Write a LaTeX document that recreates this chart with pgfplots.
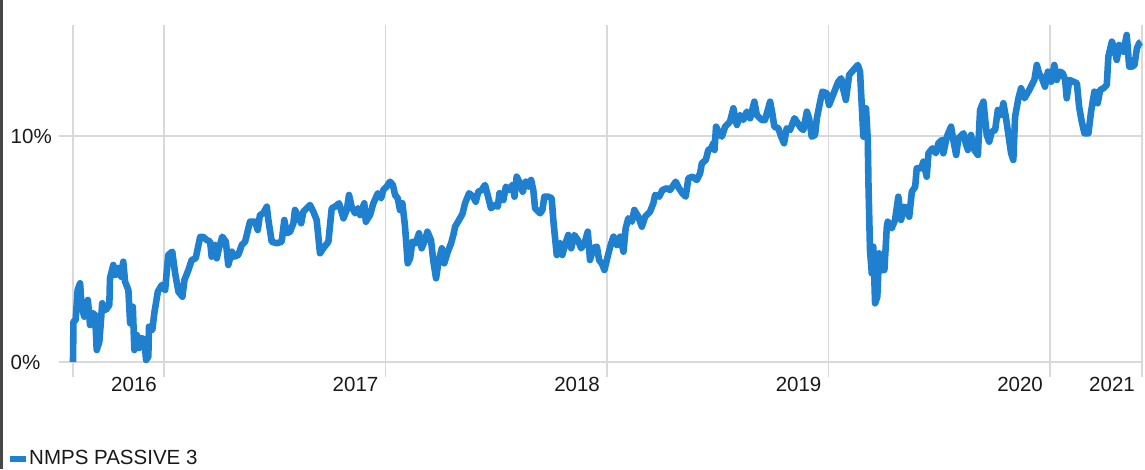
\documentclass[border=0pt]{standalone}
\usepackage{pgfplots}
\pgfplotsset{compat=1.18}
\usepackage{fontspec}
\setmainfont{Liberation Sans}
\definecolor{linecol}{RGB}{31,128,208}
\definecolor{gridcol}{RGB}{217,217,217}
\definecolor{txtcol}{RGB}{25,25,25}
\begin{document}
\fontsize{20.5}{24}\selectfont
\begin{tikzpicture}
\path[use as bounding box] (0,0) rectangle (1145pt,469pt);
\draw[black!72, line width=2.5pt] (1.25pt,0) -- (1.25pt,469pt);
\begin{axis}[
  at={(73pt,107pt)}, anchor=south west,
  scale only axis, width=1069pt, height=337pt,
  xmin=2015.589, xmax=2020.415, ymin=0, ymax=14.91,
  clip=false,
  axis x line*=bottom, axis y line*=left,
  axis line style={draw=none},
  xtick={2015.589,2016,2017,2018,2019,2020,2020.415},
  xticklabels={,2016,2017,2018,2019,2020,2021},
  ytick={0,10}, yticklabels={0\%,10\%},
  grid=major,
  major grid style={gridcol, line width=1.6pt},
  tick style={gridcol, line width=1.6pt},
  tick align=outside,
  major tick length=14.5pt,
  xticklabel style={anchor=north east, inner sep=0pt, xshift=-7pt, text=txtcol, font=\fontsize{20.5}{24}\selectfont},
  yticklabel style={anchor=west, inner sep=0pt, xshift=-48pt, text=txtcol, font=\fontsize{20.5}{24}\selectfont},
  legend style={at={(-0.0617,-0.288)}, anchor=west, draw=none, fill=none, inner sep=0pt, column sep=0pt,
    nodes={inner sep=0pt, text=txtcol, font=\fontsize{20.5}{24}\selectfont}},
  legend image code/.code={\draw[#1, line width=6pt, line cap=butt] (0pt,0pt) -- (16pt,0pt);},
]
\addplot[linecol, line width=6.6pt, line join=round, line cap=butt] coordinates {
(2015.589,0.000) (2015.591,1.783) (2015.601,1.859) (2015.610,3.186) (2015.621,3.483)
(2015.628,2.447) (2015.640,2.005) (2015.656,2.744) (2015.666,1.637) (2015.676,2.168)
(2015.689,2.080) (2015.696,0.531) (2015.708,0.898) (2015.721,2.597) (2015.737,2.301)
(2015.753,2.522) (2015.756,3.704) (2015.771,4.292) (2015.779,3.850) (2015.794,4.160)
(2015.806,3.775) (2015.816,4.438) (2015.824,3.553) (2015.839,3.186) (2015.847,1.712)
(2015.859,2.447) (2015.866,0.531) (2015.877,1.195) (2015.887,0.620) (2015.899,1.062)
(2015.911,0.974) (2015.919,0.089) (2015.929,0.235) (2015.932,1.562) (2015.947,1.416)
(2015.956,2.155) (2015.972,3.111) (2015.990,3.407) (2016.005,3.186) (2016.019,4.735)
(2016.037,4.881) (2016.050,3.925) (2016.065,3.111) (2016.083,2.890) (2016.092,3.629)
(2016.110,4.071) (2016.125,4.514) (2016.143,4.589) (2016.163,5.531) (2016.177,5.531)
(2016.193,5.399) (2016.208,5.323) (2016.215,4.660) (2016.230,5.177) (2016.238,4.589)
(2016.248,5.031) (2016.263,5.545) (2016.279,5.323) (2016.290,4.292) (2016.306,4.881)
(2016.317,4.660) (2016.335,4.735) (2016.351,5.177) (2016.366,5.323) (2016.388,6.208)
(2016.411,6.208) (2016.423,5.841) (2016.433,6.505) (2016.448,6.580) (2016.464,6.872)
(2016.471,6.284) (2016.486,5.323) (2016.509,5.252) (2016.531,5.323) (2016.543,6.284)
(2016.554,5.695) (2016.569,5.766) (2016.584,6.138) (2016.591,6.726) (2016.606,6.430)
(2016.619,6.138) (2016.629,6.651) (2016.644,6.801) (2016.659,6.947) (2016.674,6.651)
(2016.689,6.284) (2016.704,4.810) (2016.719,5.031) (2016.742,5.323) (2016.757,6.801)
(2016.772,6.872) (2016.790,7.023) (2016.810,6.359) (2016.825,6.726) (2016.835,7.390)
(2016.847,6.872) (2016.862,6.580) (2016.875,6.801) (2016.885,6.505) (2016.904,7.023)
(2016.911,6.208) (2016.930,6.505) (2016.945,7.023) (2016.965,7.465) (2016.980,7.244)
(2016.990,7.611) (2017.005,7.757) (2017.020,7.978) (2017.033,7.832) (2017.043,7.390)
(2017.055,7.244) (2017.065,6.726) (2017.076,7.023) (2017.088,5.987) (2017.100,4.367)
(2017.111,4.589) (2017.121,5.323) (2017.136,5.252) (2017.151,5.695) (2017.163,5.031)
(2017.178,5.399) (2017.189,5.766) (2017.205,5.399) (2017.216,4.438) (2017.228,3.704)
(2017.238,4.367) (2017.254,5.031) (2017.265,4.367) (2017.281,4.881) (2017.296,5.252)
(2017.306,5.620) (2017.314,5.987) (2017.329,6.239) (2017.347,6.549) (2017.359,7.023)
(2017.377,7.465) (2017.396,7.315) (2017.407,7.093) (2017.419,7.536) (2017.434,7.611)
(2017.449,7.832) (2017.461,7.390) (2017.476,6.801) (2017.494,6.947) (2017.507,6.872)
(2017.514,7.465) (2017.532,7.169) (2017.543,7.757) (2017.558,7.611) (2017.573,7.832)
(2017.582,7.315) (2017.592,8.200) (2017.607,7.907) (2017.619,7.536) (2017.633,7.978)
(2017.645,7.757) (2017.657,8.054) (2017.667,7.611) (2017.675,6.801) (2017.698,6.580)
(2017.708,6.726) (2017.717,7.315) (2017.735,7.315) (2017.750,7.244) (2017.758,6.208)
(2017.773,4.735) (2017.788,5.252) (2017.798,4.735) (2017.810,5.177) (2017.825,5.620)
(2017.838,5.031) (2017.852,5.620) (2017.868,5.399) (2017.883,5.031) (2017.898,5.252)
(2017.913,5.766) (2017.923,4.514) (2017.938,5.045) (2017.954,5.102) (2017.964,4.514)
(2017.976,4.367) (2017.988,4.071) (2017.999,4.514) (2018.014,5.102) (2018.029,5.545)
(2018.044,5.177) (2018.059,5.545) (2018.074,4.881) (2018.084,5.916) (2018.096,6.359)
(2018.112,6.208) (2018.123,6.726) (2018.141,6.430) (2018.157,5.987) (2018.172,6.430)
(2018.194,6.651) (2018.209,7.023) (2018.217,7.390) (2018.235,7.315) (2018.250,7.611)
(2018.270,7.686) (2018.284,7.611) (2018.295,7.757) (2018.310,7.978) (2018.325,7.686)
(2018.340,7.465) (2018.355,7.315) (2018.367,8.129) (2018.385,8.200) (2018.405,8.054)
(2018.420,8.350) (2018.428,8.793) (2018.446,8.939) (2018.457,9.381) (2018.470,9.456)
(2018.480,9.678) (2018.485,9.381) (2018.492,10.412) (2018.503,10.191) (2018.518,9.970)
(2018.533,10.412) (2018.555,10.633) (2018.570,11.226) (2018.586,10.487) (2018.601,10.930)
(2018.615,10.709) (2018.631,11.076) (2018.646,10.784) (2018.665,11.518) (2018.676,10.930)
(2018.698,10.709) (2018.713,10.709) (2018.736,11.518) (2018.746,11.005) (2018.755,10.412)
(2018.773,10.341) (2018.786,9.970) (2018.799,9.678) (2018.811,10.341) (2018.826,10.266)
(2018.846,10.784) (2018.861,10.563) (2018.876,10.341) (2018.886,10.266) (2018.902,11.076)
(2018.912,10.784) (2018.924,9.970) (2018.939,10.045) (2018.947,10.784) (2018.962,11.518)
(2018.972,11.961) (2018.992,11.890) (2019.002,11.372) (2019.017,11.740) (2019.029,12.036)
(2019.044,12.403) (2019.057,12.554) (2019.067,12.036) (2019.078,11.594) (2019.093,12.700)
(2019.112,12.921) (2019.132,13.142) (2019.142,12.846) (2019.157,9.970) (2019.169,11.226)
(2019.177,9.824) (2019.180,7.907) (2019.187,4.956) (2019.195,3.925) (2019.202,5.102)
(2019.210,2.597) (2019.220,2.890) (2019.228,4.810) (2019.237,4.071) (2019.252,4.071)
(2019.263,5.987) (2019.267,6.208) (2019.285,5.916) (2019.300,6.284) (2019.315,7.315)
(2019.327,6.284) (2019.342,6.872) (2019.353,6.801) (2019.364,6.430) (2019.376,7.536)
(2019.391,7.757) (2019.398,8.571) (2019.418,8.571) (2019.428,8.863) (2019.443,8.200)
(2019.451,9.235) (2019.469,9.456) (2019.484,9.235) (2019.496,9.678) (2019.511,9.824)
(2019.518,9.235) (2019.534,9.970) (2019.553,10.412) (2019.563,9.824) (2019.576,9.160)
(2019.586,9.899) (2019.609,10.120) (2019.619,9.678) (2019.629,9.381) (2019.643,10.045)
(2019.658,9.381) (2019.674,9.160) (2019.684,11.151) (2019.699,11.518) (2019.714,10.045)
(2019.725,9.748) (2019.737,10.191) (2019.752,10.266) (2019.764,11.151) (2019.779,10.930)
(2019.789,11.448) (2019.800,10.855) (2019.812,10.045) (2019.824,9.235) (2019.834,8.939)
(2019.842,10.855) (2019.857,11.669) (2019.869,12.111) (2019.884,11.669) (2019.902,11.961)
(2019.917,12.257) (2019.929,12.479) (2019.940,13.142) (2019.950,12.775) (2019.963,12.554)
(2019.977,12.182) (2019.990,12.846) (2020.005,12.403) (2020.019,13.142) (2020.030,12.479)
(2020.045,12.846) (2020.057,12.775) (2020.068,12.479) (2020.075,11.669) (2020.087,12.479)
(2020.105,12.403) (2020.121,12.333) (2020.131,11.297) (2020.143,10.633) (2020.155,10.120)
(2020.173,10.120) (2020.185,11.076) (2020.200,11.961) (2020.215,11.448) (2020.226,12.036)
(2020.241,12.111) (2020.256,12.257) (2020.263,13.510) (2020.279,14.173) (2020.290,13.881)
(2020.301,13.364) (2020.312,14.027) (2020.331,13.731) (2020.346,14.470) (2020.357,13.067)
(2020.369,13.067) (2020.381,13.142) (2020.392,13.881) (2020.402,14.102) (2020.411,14.160)
};
\addlegendentry{NMPS PASSIVE 3}
\end{axis}
\end{tikzpicture}
\end{document}
